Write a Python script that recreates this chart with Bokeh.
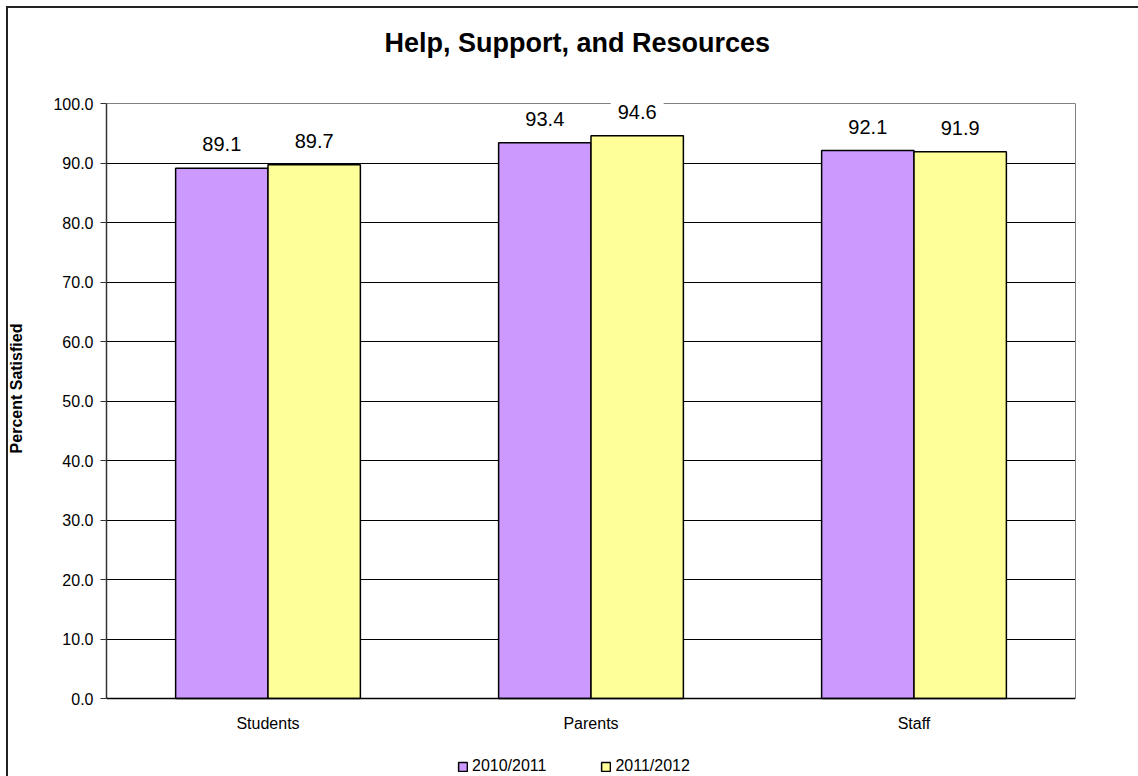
from bokeh.plotting import figure
from bokeh.models import (ColumnDataSource, FactorRange, Range1d, FixedTicker,
                          NumeralTickFormatter, Legend, LegendItem, Span, Label,
                          LinearAxis)
from bokeh.transform import dodge
from bokeh.core.properties import value
from bokeh.embed import file_html
from bokeh.resources import INLINE

categories = ["Students", "Parents", "Staff"]
series_names = ["2010/2011", "2011/2012"]
values_2010_2011 = [89.1, 93.4, 92.1]
values_2011_2012 = [89.7, 94.6, 91.9]
y_ticks = [0, 10, 20, 30, 40, 50, 60, 70, 80, 90, 100]
title_text = "Help, Support, and Resources"
y_label = "Percent Satisfied"

FONT = "Liberation Sans"
PURPLE = "#CC99FF"
YELLOW = "#FFFF99"

src = ColumnDataSource(dict(
    cat=categories,
    a=values_2010_2011,
    b=values_2011_2012,
    a_lbl=[f"{v:.1f}" for v in values_2010_2011],
    b_lbl=[f"{v:.1f}" for v in values_2011_2012],
))

# frame spans the full canvas height; 0..100 maps to y=698..103 px
PX_PER_UNIT = (698 - 103) / 100.0
y_start = -(776 - 698) / PX_PER_UNIT
y_end = 100 + 103 / PX_PER_UNIT

p = figure(x_range=FactorRange(*categories), y_range=Range1d(y_start, y_end),
           width=1138, height=776, output_backend="svg", toolbar_location=None,
           x_axis_location=None,
           min_border_left=106, min_border_right=63, min_border_top=0,
           min_border_bottom=0)
p.title.text = ""

p.background_fill_alpha = 0
p.border_fill_alpha = 0
p.outline_line_color = None
# outer chart border (left and top edges)
p.styles = {
    "background": ("linear-gradient(#222,#222) 6px 6px / 2px 100% no-repeat, "
                   "linear-gradient(#222,#222) 6px 6px / 100% 2px no-repeat, white"),
}

# bars
w = 0.286
r1 = p.vbar(x=dodge("cat", -0.143, range=p.x_range), top="a", width=w, source=src,
            fill_color=PURPLE, line_color="black", line_width=1.5)
r2 = p.vbar(x=dodge("cat", 0.143, range=p.x_range), top="b", width=w, source=src,
            fill_color=YELLOW, line_color="black", line_width=1.5)

# value labels (white boxes that break the gridlines)
for col, lbl, off in (("a", "a_lbl", -0.143), ("b", "b_lbl", 0.143)):
    p.text(x=dodge("cat", off, range=p.x_range), y=col, text=lbl, source=src,
           text_align="center", text_baseline="bottom", y_offset=-10,
           text_font=value(FONT), text_font_size="20px", text_color="black",
           background_fill_color="white", padding=7)

# category labels under the baseline
p.text(x="cat", y=0, text="cat", source=src, text_align="center",
       text_baseline="alphabetic", y_offset=25, text_font=value(FONT),
       text_font_size="16px", text_color="black")

# grid
for g in p.xgrid:
    g.grid_line_color = None
p.ygrid.grid_line_color = "black"
p.ygrid.grid_line_width = 1
p.ygrid.ticker = FixedTicker(ticks=y_ticks[1:-1])

# plot-area top edge (grey) and category baseline (black)
p.add_layout(Span(location=y_ticks[-1], dimension="width", line_color="#808080",
                  line_width=1, level="underlay"))
p.add_layout(Span(location=y_ticks[0], dimension="width", line_color="black",
                  line_width=1.5))

# y axis
p.yaxis.bounds = (y_ticks[0], y_ticks[-1])
p.yaxis.ticker = FixedTicker(ticks=y_ticks)
p.yaxis.formatter = NumeralTickFormatter(format="0.0")
p.yaxis.axis_label = y_label
p.yaxis.axis_label_text_font = FONT
p.yaxis.axis_label_text_font_size = "16px"
p.yaxis.axis_label_text_font_style = "bold"
p.yaxis.axis_label_text_color = "black"
p.yaxis.axis_label_standoff = 25
p.yaxis.major_label_text_font = FONT
p.yaxis.major_label_text_font_size = "16px"
p.yaxis.major_label_text_color = "black"
p.yaxis.major_label_standoff = 7
p.yaxis.major_tick_out = 6
p.yaxis.major_tick_in = 0
p.yaxis.minor_tick_line_color = None
p.yaxis.axis_line_color = "#333333"
p.yaxis.axis_line_width = 1.5
p.yaxis.major_tick_line_color = "#333333"

# right edge of plot area (grey)
right_edge = LinearAxis(bounds=(y_ticks[0], y_ticks[-1]), ticker=FixedTicker(ticks=[]),
                        axis_line_color="#808080", axis_line_width=1,
                        major_tick_line_color=None, minor_tick_line_color=None)
p.add_layout(right_edge, "right")

# title
p.add_layout(Label(x=278, y=776 - 42, x_units="screen", y_units="screen",
                   text=title_text, text_font=FONT, text_font_size="27px",
                   text_font_style="bold", text_color="black",
                   text_baseline="alphabetic", text_align="left"))

legend = Legend(items=[LegendItem(label=series_names[0], renderers=[r1]),
                       LegendItem(label=series_names[1], renderers=[r2])],
                orientation="horizontal", location=(351, 1))
legend.label_text_font = FONT
legend.label_text_font_size = "16px"
legend.label_text_color = "black"
legend.glyph_width = 11
legend.glyph_height = 11
legend.label_standoff = 4
legend.spacing = 54
legend.padding = 0
legend.margin = 0
legend.border_line_color = None
legend.background_fill_alpha = 0
p.add_layout(legend, "center")

open("out.html", "w").write(file_html(p, INLINE))
